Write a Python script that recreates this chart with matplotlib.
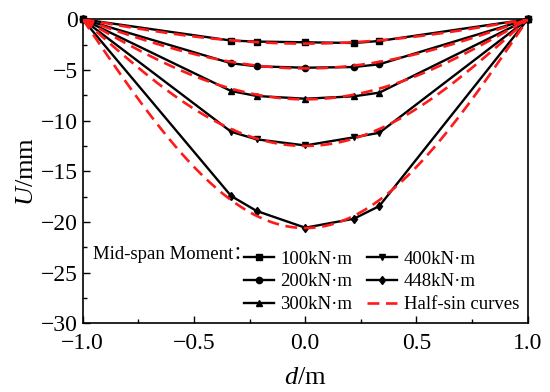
import numpy as np
import matplotlib
matplotlib.use("Agg")
import matplotlib.pyplot as plt
from matplotlib.ticker import MultipleLocator

plt.rcParams['font.family'] = ['Liberation Serif', 'DejaVu Serif']
plt.rcParams['mathtext.fontset'] = 'custom'
plt.rcParams['mathtext.rm'] = 'Liberation Serif'
plt.rcParams['mathtext.it'] = 'Liberation Serif:italic'

# Data
d_pos = [-1.0, -0.333, -0.218, 0.0, 0.219, 0.333, 1.0]
labels = ["100kN·m", "200kN·m", "300kN·m", "400kN·m", "448kN·m"]
u_100 = [0, -2.10, -2.20, -2.27, -2.34, -2.14, 0]
u_200 = [0, -4.34, -4.64, -4.78, -4.71, -4.44, 0]
u_300 = [0, -7.08, -7.57, -7.84, -7.60, -7.24, 0]
u_400 = [0, -11.10, -11.85, -12.45, -11.65, -11.20, 0]
u_448 = [0, -17.44, -18.92, -20.57, -19.68, -18.43, 0]
series = [u_100, u_200, u_300, u_400, u_448]
markers = ['s', 'o', '^', 'v', 'd']
# Half-sin curve amplitudes (mid-span)
halfsin_amp = [-2.40, -4.85, -7.90, -12.50, -20.60]

fig = plt.figure(figsize=(5.5, 3.92), dpi=100)
ax = fig.add_axes([0.1504, 0.1753, 0.8091, 0.7755])

handles = []
for u, m, lab in zip(series, markers, labels):
    h, = ax.plot(d_pos, u, color='black', lw=1.7, marker=m, ms=4.5,
                 label=lab, clip_on=False, zorder=3)
    handles.append(h)

xs = np.linspace(-1, 1, 201)
for i, a in enumerate(halfsin_amp):
    h, = ax.plot(xs, a * np.cos(np.pi * xs / 2), color='#ff1a1a', lw=1.9,
                 ls=(0, (4.5, 2.5)), label='Half-sin curves', zorder=4)
    if i == 0:
        hs = h

ax.set_xlim(-1, 1)
ax.set_ylim(-30, 0)
ax.xaxis.set_major_locator(MultipleLocator(0.5))
ax.xaxis.set_minor_locator(MultipleLocator(0.25))
ax.yaxis.set_major_locator(MultipleLocator(5))
ax.yaxis.set_minor_locator(MultipleLocator(2.5))
ax.tick_params(which='both', direction='in', top=False, right=False,
               labelsize=17, width=1.0)
ax.tick_params(axis='x', which='major', pad=7)
ax.tick_params(which='major', length=5)
ax.tick_params(which='minor', length=3)
ax.xaxis.set_major_formatter(matplotlib.ticker.FuncFormatter(
    lambda v, p: ('\u2212' if v < 0 else '') + f"{abs(v):.1f}"))
ax.yaxis.set_major_formatter(matplotlib.ticker.FuncFormatter(
    lambda v, p: ('\u2212' if v < 0 else '') + f"{abs(v):.0f}"))
for s in ax.spines.values():
    s.set_linewidth(1.2)

ax.set_xlabel('$\\mathit{d}$/m', fontsize=19, labelpad=9)
ax.set_ylabel('$\\mathit{U}$/mm', fontsize=19, labelpad=2)

order = handles[:3] + handles[3:] + [hs]
leg = ax.legend(order, [h.get_label() for h in order], ncol=2, frameon=False,
                fontsize=13.5, loc='lower left', bbox_to_anchor=(0.337, -0.004),
                handlelength=1.6, handletextpad=0.35, columnspacing=0.8,
                labelspacing=0.3, borderaxespad=0.2)
ax.text(0.022, 0.225, 'Mid-span Moment\uff1a', transform=ax.transAxes,
        fontsize=13.5, va='center', ha='left',
        family=['Liberation Serif', 'Noto Sans CJK SC'])

fig.savefig('out.png', dpi=100)
